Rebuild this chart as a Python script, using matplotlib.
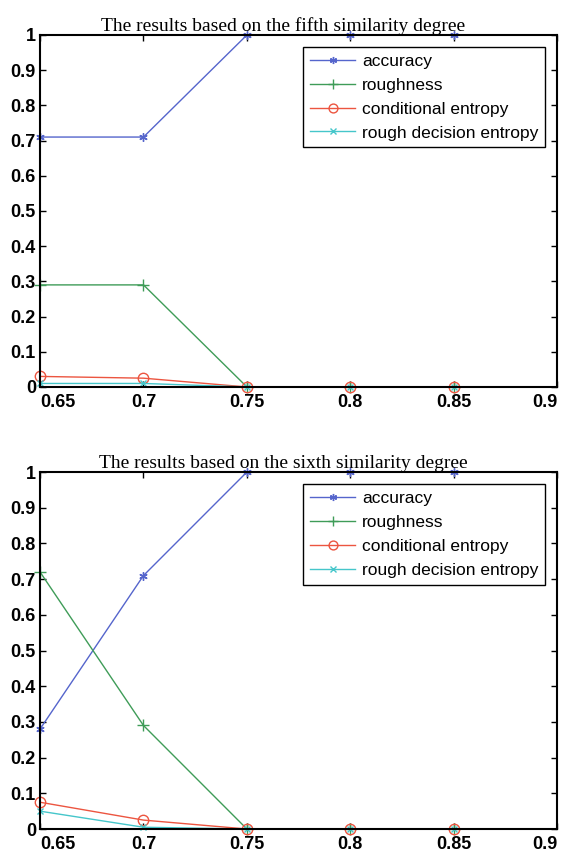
import numpy as np
import matplotlib
matplotlib.use('Agg')
import matplotlib.pyplot as plt

# similarity thresholds
x = [0.65, 0.7, 0.75, 0.8, 0.85]

# fifth similarity degree
acc5 = [0.71, 0.71, 1.0, 1.0, 1.0]
rough5 = [0.29, 0.29, 0.0, 0.0, 0.0]
cond5 = [0.03, 0.025, 0.0, 0.0, 0.0]
rde5 = [0.01, 0.01, 0.0, 0.0, 0.0]

# sixth similarity degree
acc6 = [0.28, 0.71, 1.0, 1.0, 1.0]
rough6 = [0.72, 0.29, 0.0, 0.0, 0.0]
cond6 = [0.075, 0.025, 0.0, 0.0, 0.0]
rde6 = [0.05, 0.005, 0.0, 0.0, 0.0]

labels = ['accuracy', 'roughness', 'conditional entropy', 'rough decision entropy']
titles = ['The results based on the fifth similarity degree',
          'The results based on the sixth similarity degree']
xticks = [0.65, 0.7, 0.75, 0.8, 0.85, 0.9]
xticklabels = ['0.65', '0.7', '0.75', '0.8', '0.85', '0.9']
yticks = [0, 0.1, 0.2, 0.3, 0.4, 0.5, 0.6, 0.7, 0.8, 0.9, 1]
yticklabels = ['0', '0.1', '0.2', '0.3', '0.4', '0.5', '0.6', '0.7', '0.8', '0.9', '1']

colors = ['#5565cc', '#3f9c58', '#ec5540', '#45c6ca']
markers = [(6, 2, 0), '+', 'o', 'x']
msizes = [6, 8, 7.5, 5]

fig = plt.figure(figsize=(5.64, 8.59), dpi=100)
ax1 = fig.add_axes([0.071, 0.5495, 0.917, 0.4098])
ax2 = fig.add_axes([0.071, 0.0349, 0.917, 0.4156])

data = [[acc5, rough5, cond5, rde5], [acc6, rough6, cond6, rde6]]

for ax, series, title in zip([ax1, ax2], data, titles):
	for ys, lab, col, mk, ms in zip(series, labels, colors, markers, msizes):
		ax.plot(x, ys, color=col, marker=mk, markersize=ms, linewidth=1.0,
			markerfacecolor='none' if mk == 'o' else col, markeredgewidth=1.0,
			label=lab, clip_on=False)
	ax.set_xlim(0.65, 0.9)
	ax.set_ylim(0, 1)
	ax.set_xticks(xticks)
	xt = ax.set_xticklabels(xticklabels, family='Liberation Sans', fontsize=13, fontweight='bold')
	xt[-1].set_horizontalalignment('right')
	xt[0].set_horizontalalignment('left')
	ax.set_yticks(yticks)
	ax.set_yticklabels(yticklabels, family='Liberation Sans', fontsize=13, fontweight='bold')
	ax.tick_params(direction='in', top=True, right=True, length=4, width=1.0)
	ax.tick_params(axis='x', pad=5)
	ax.tick_params(axis='y', pad=3)
	for s in ax.spines.values():
		s.set_linewidth(1.5)
	ax.set_title(title, family='Liberation Serif', fontsize=14, pad=3, x=0.47)
	leg = ax.legend(loc='upper right', bbox_to_anchor=(0.977, 0.966),
		prop={'family': 'Liberation Sans', 'size': 12.5}, fancybox=False, framealpha=1,
		edgecolor='black', handlelength=2.6, borderpad=0.4, labelspacing=0.5,
		handletextpad=0.4, borderaxespad=0, markerscale=0.85)
	leg.get_frame().set_linewidth(1.0)

fig.savefig('out.png', dpi=100)
